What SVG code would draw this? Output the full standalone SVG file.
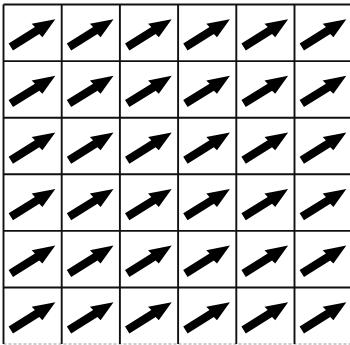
<svg xmlns="http://www.w3.org/2000/svg" xmlns:xlink="http://www.w3.org/1999/xlink" width="350" height="345" viewBox="0 0 350 345">
<style>
.grid line{stroke:#111;stroke-width:1.9}
.grid line.faint{stroke:#999;stroke-width:1.2;stroke-dasharray:3 2}
.arr{fill:#000}
</style>
<defs>
<path id="arrow" class="arr" d="M0,-4.1 L31,-4.1 L30,-8.6 L52.5,0 L32,8.4 L31,4.1 L0,4.1 Z"/>
</defs>
<rect width="350" height="345" fill="#fff"/>
<g id="grid" class="grid">
<line x1="3.5" y1="4.5" x2="350" y2="4.5"/>
<line x1="3.5" y1="61.1" x2="350" y2="61.1"/>
<line x1="3.5" y1="117.7" x2="350" y2="117.7"/>
<line x1="3.5" y1="174.3" x2="350" y2="174.3"/>
<line x1="3.5" y1="230.9" x2="350" y2="230.9"/>
<line x1="3.5" y1="287.5" x2="350" y2="287.5"/>
<line class="faint" x1="3.5" y1="344" x2="350" y2="344"/>
<line x1="3.5" y1="4.5" x2="3.5" y2="344"/>
<line x1="61.7" y1="4.5" x2="61.7" y2="344"/>
<line x1="119.9" y1="4.5" x2="119.9" y2="344"/>
<line x1="178.1" y1="4.5" x2="178.1" y2="344"/>
<line x1="236.3" y1="4.5" x2="236.3" y2="344"/>
<line x1="294.5" y1="4.5" x2="294.5" y2="344"/>
</g>
<g id="connectors"></g>
<g id="r1c1"><use xlink:href="#arrow" transform="translate(10.8,47) rotate(-32)"/></g>
<g id="r1c2"><use xlink:href="#arrow" transform="translate(69,47) rotate(-32)"/></g>
<g id="r1c3"><use xlink:href="#arrow" transform="translate(127.2,47) rotate(-32)"/></g>
<g id="r1c4"><use xlink:href="#arrow" transform="translate(185.4,47) rotate(-32)"/></g>
<g id="r1c5"><use xlink:href="#arrow" transform="translate(243.6,47) rotate(-32)"/></g>
<g id="r1c6"><use xlink:href="#arrow" transform="translate(301.8,47) rotate(-32)"/></g>
<g id="r2c1"><use xlink:href="#arrow" transform="translate(10.8,103.6) rotate(-32)"/></g>
<g id="r2c2"><use xlink:href="#arrow" transform="translate(69,103.6) rotate(-32)"/></g>
<g id="r2c3"><use xlink:href="#arrow" transform="translate(127.2,103.6) rotate(-32)"/></g>
<g id="r2c4"><use xlink:href="#arrow" transform="translate(185.4,103.6) rotate(-32)"/></g>
<g id="r2c5"><use xlink:href="#arrow" transform="translate(243.6,103.6) rotate(-32)"/></g>
<g id="r2c6"><use xlink:href="#arrow" transform="translate(301.8,103.6) rotate(-32)"/></g>
<g id="r3c1"><use xlink:href="#arrow" transform="translate(10.8,160.2) rotate(-32)"/></g>
<g id="r3c2"><use xlink:href="#arrow" transform="translate(69,160.2) rotate(-32)"/></g>
<g id="r3c3"><use xlink:href="#arrow" transform="translate(127.2,160.2) rotate(-32)"/></g>
<g id="r3c4"><use xlink:href="#arrow" transform="translate(185.4,160.2) rotate(-32)"/></g>
<g id="r3c5"><use xlink:href="#arrow" transform="translate(243.6,160.2) rotate(-32)"/></g>
<g id="r3c6"><use xlink:href="#arrow" transform="translate(301.8,160.2) rotate(-32)"/></g>
<g id="r4c1"><use xlink:href="#arrow" transform="translate(10.8,216.8) rotate(-32)"/></g>
<g id="r4c2"><use xlink:href="#arrow" transform="translate(69,216.8) rotate(-32)"/></g>
<g id="r4c3"><use xlink:href="#arrow" transform="translate(127.2,216.8) rotate(-32)"/></g>
<g id="r4c4"><use xlink:href="#arrow" transform="translate(185.4,216.8) rotate(-32)"/></g>
<g id="r4c5"><use xlink:href="#arrow" transform="translate(243.6,216.8) rotate(-32)"/></g>
<g id="r4c6"><use xlink:href="#arrow" transform="translate(301.8,216.8) rotate(-32)"/></g>
<g id="r5c1"><use xlink:href="#arrow" transform="translate(10.8,273.4) rotate(-32)"/></g>
<g id="r5c2"><use xlink:href="#arrow" transform="translate(69,273.4) rotate(-32)"/></g>
<g id="r5c3"><use xlink:href="#arrow" transform="translate(127.2,273.4) rotate(-32)"/></g>
<g id="r5c4"><use xlink:href="#arrow" transform="translate(185.4,273.4) rotate(-32)"/></g>
<g id="r5c5"><use xlink:href="#arrow" transform="translate(243.6,273.4) rotate(-32)"/></g>
<g id="r5c6"><use xlink:href="#arrow" transform="translate(301.8,273.4) rotate(-32)"/></g>
<g id="r6c1"><use xlink:href="#arrow" transform="translate(10.8,330) rotate(-32)"/></g>
<g id="r6c2"><use xlink:href="#arrow" transform="translate(69,330) rotate(-32)"/></g>
<g id="r6c3"><use xlink:href="#arrow" transform="translate(127.2,330) rotate(-32)"/></g>
<g id="r6c4"><use xlink:href="#arrow" transform="translate(185.4,330) rotate(-32)"/></g>
<g id="r6c5"><use xlink:href="#arrow" transform="translate(243.6,330) rotate(-32)"/></g>
<g id="r6c6"><use xlink:href="#arrow" transform="translate(301.8,330) rotate(-32)"/></g>
</svg>
